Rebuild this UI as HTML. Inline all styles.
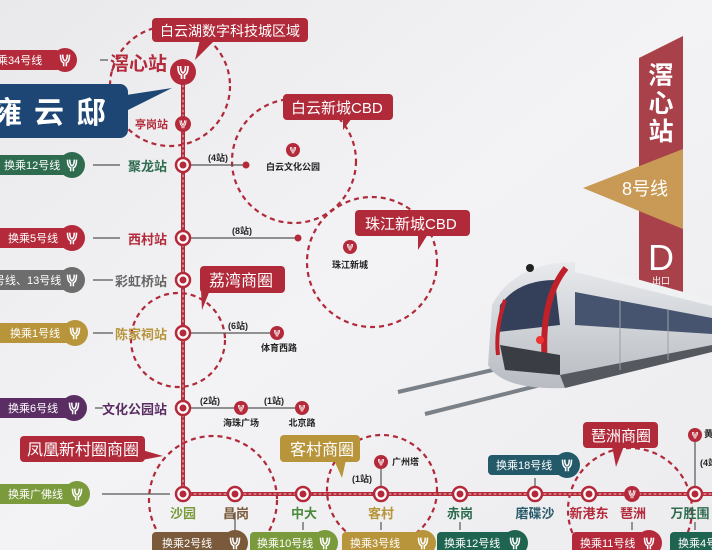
<!DOCTYPE html>
<html><head><meta charset="utf-8"><style>
html,body{margin:0;padding:0;width:712px;height:550px;overflow:hidden;background:#efeff1}
svg{display:block;font-family:"Liberation Sans","Noto Sans CJK SC",sans-serif}
</style></head><body>
<svg width="712" height="550" viewBox="0 0 712 550" xmlns="http://www.w3.org/2000/svg">
<defs>
<linearGradient id="bg" x1="0" y1="0" x2="1" y2="1"><stop offset="0" stop-color="#e9e9eb"/><stop offset="0.5" stop-color="#f3f3f5"/><stop offset="1" stop-color="#ececee"/></linearGradient>
<linearGradient id="tb" x1="0" y1="0" x2="0" y2="1"><stop offset="0" stop-color="#e8eaed"/><stop offset="1" stop-color="#b8bcc2"/></linearGradient>
<symbol id="lg" viewBox="-10 -10 20 20" overflow="visible"><path d="M-5,-6 Q-5,2 -1.5,3 L-1.5,7 M5,-6 Q5,2 1.5,3 L1.5,7 M-2.5,-6 Q-2.5,0 0,1 Q2.5,0 2.5,-6" stroke="#fff" stroke-width="1.7" fill="none"/></symbol>
</defs>
<rect width="712" height="550" fill="url(#bg)"/>

<g fill="none" stroke="#b02a3a" stroke-width="2.2" stroke-dasharray="5,4">
<circle cx="170" cy="86" r="60"/>
<circle cx="294" cy="161" r="62"/>
<circle cx="372" cy="262" r="65"/>
<circle cx="178" cy="340" r="47"/>
<circle cx="213" cy="500" r="64"/>
<circle cx="382" cy="490" r="55"/>
<circle cx="630" cy="510" r="62"/>
</g>

<path d="M639,58 L683,36 L683,310 L639,310 Z" fill="#a8414a"/>
<g fill="#fff" font-size="25" text-anchor="middle" font-weight="bold">
<text x="661" y="84">滘</text><text x="661" y="112">心</text><text x="661" y="140">站</text></g>
<path d="M583,188 L683,149 L683,229 Z" fill="#c99a55"/>
<text x="645" y="195" fill="#fff" font-size="18" text-anchor="middle">8号线</text>
<text x="661" y="270" fill="#fff" font-size="36" text-anchor="middle">D</text>
<text x="661" y="284" fill="#fff" font-size="9" text-anchor="middle">出口</text>

<g stroke="#7a8088" stroke-width="4"><line x1="398" y1="392" x2="600" y2="345"/><line x1="425" y1="414" x2="640" y2="360"/></g>
<path d="M492,305 Q515,262 575,262 L712,300 L712,350 L565,388 Q502,390 488,365 Z" fill="url(#tb)"/>
<path d="M575,262 L712,300 L712,306 L575,272 Z" fill="#f0f1f3"/>
<path d="M500,305 Q518,280 555,280 L560,325 L498,332 Z" fill="#34405a"/>
<path d="M566,268 Q540,300 545,365" stroke="#c0202a" stroke-width="6" fill="none"/>
<path d="M505,300 Q495,330 498,355" stroke="#c0202a" stroke-width="4" fill="none"/>
<path d="M575,292 L712,318 L712,334 L575,325 Z" fill="#465470"/>
<path d="M500,345 L560,355 L560,375 L505,370 Z" fill="#3a3e44"/>
<path d="M560,375 L712,345 L712,352 L565,388 Z" fill="#55595f"/>
<circle cx="530" cy="268" r="4" fill="#222"/>
<circle cx="540" cy="340" r="4" fill="#e33"/>
<g stroke="#9aa0a6" stroke-width="1"><line x1="620" y1="300" x2="620" y2="370"/><line x1="668" y1="310" x2="668" y2="360"/></g>

<g stroke-linecap="round">
<path d="M183,72 L183,494 L712,494" stroke="#b42a3a" stroke-width="4" fill="none"/>
<path d="M183,80 L183,494 L712,494" stroke="#f2c8cc" stroke-width="1" stroke-dasharray="2,3" fill="none"/>
</g>

<g stroke="#555" stroke-width="1.2">
<line x1="190" y1="165" x2="246" y2="165"/>
<line x1="190" y1="238" x2="298" y2="238"/>
<line x1="190" y1="333" x2="277" y2="333"/>
<line x1="190" y1="408" x2="302" y2="408"/>
<line x1="381" y1="462" x2="381" y2="494"/>
<line x1="695" y1="435" x2="695" y2="494"/>
<line x1="100" y1="60" x2="108" y2="60"/>
<line x1="93" y1="165" x2="120" y2="165"/>
<line x1="93" y1="238" x2="120" y2="238"/>
<line x1="93" y1="280" x2="113" y2="280"/>
<line x1="93" y1="333" x2="113" y2="333"/>
<line x1="95" y1="408" x2="103" y2="408"/>
<line x1="102" y1="494" x2="170" y2="494"/>
<line x1="235" y1="512" x2="235" y2="530"/>
<line x1="303" y1="522" x2="303" y2="530"/>
<line x1="381" y1="522" x2="381" y2="530"/>
<line x1="460" y1="522" x2="460" y2="530"/>
<line x1="535" y1="478" x2="535" y2="486"/>
<line x1="632" y1="522" x2="632" y2="530"/>
<line x1="695" y1="522" x2="695" y2="530"/>
</g>
<g fill="#b42a3a"><circle cx="246" cy="165" r="3.5"/><circle cx="298" cy="238" r="3.5"/></g>

<g fill="#fff" stroke="#b42a3a" stroke-width="2.5">
<circle cx="183" cy="165" r="7"/><circle cx="183" cy="238" r="7"/><circle cx="183" cy="280" r="7"/><circle cx="183" cy="333" r="7"/><circle cx="183" cy="408" r="7"/><circle cx="183" cy="494" r="7"/>
<circle cx="235" cy="494" r="7"/><circle cx="303" cy="494" r="7"/><circle cx="381" cy="494" r="7"/><circle cx="460" cy="494" r="7"/><circle cx="535" cy="494" r="7"/><circle cx="589" cy="494" r="7"/><circle cx="695" cy="494" r="7"/>
</g>
<g fill="#b42a3a">
<circle cx="183" cy="165" r="3.5"/><circle cx="183" cy="238" r="3.5"/><circle cx="183" cy="280" r="3.5"/><circle cx="183" cy="333" r="3.5"/><circle cx="183" cy="408" r="3.5"/><circle cx="183" cy="494" r="3.5"/>
<circle cx="235" cy="494" r="3.5"/><circle cx="303" cy="494" r="3.5"/><circle cx="381" cy="494" r="3.5"/><circle cx="460" cy="494" r="3.5"/><circle cx="535" cy="494" r="3.5"/><circle cx="589" cy="494" r="3.5"/><circle cx="695" cy="494" r="3.5"/>
</g>
<g fill="#b42a3a">
<circle cx="183" cy="72" r="13"/><circle cx="183" cy="124" r="8"/><circle cx="293" cy="150" r="7"/><circle cx="350" cy="247" r="7"/><circle cx="277" cy="333" r="7"/><circle cx="241" cy="408" r="7"/><circle cx="302" cy="408" r="7"/><circle cx="381" cy="462" r="7"/><circle cx="632" cy="494" r="8"/><circle cx="695" cy="435" r="7"/>
</g>
<use href="#lg" x="173" y="62" width="20" height="20"/>
<use href="#lg" x="177" y="118" width="12" height="12"/>
<use href="#lg" x="288" y="145" width="10" height="10"/>
<use href="#lg" x="345" y="242" width="10" height="10"/>
<use href="#lg" x="272" y="328" width="10" height="10"/>
<use href="#lg" x="236" y="403" width="10" height="10"/>
<use href="#lg" x="297" y="403" width="10" height="10"/>
<use href="#lg" x="376" y="457" width="10" height="10"/>
<use href="#lg" x="626" y="488" width="12" height="12"/>
<use href="#lg" x="690" y="430" width="10" height="10"/>

<g font-size="9" fill="#222" font-weight="bold">
<text x="208" y="161">(4站)</text><text x="293" y="170" text-anchor="middle">白云文化公园</text>
<text x="232" y="234">(8站)</text><text x="350" y="268" text-anchor="middle">珠江新城</text>
<text x="228" y="329">(6站)</text><text x="279" y="351" text-anchor="middle">体育西路</text>
<text x="200" y="404">(2站)</text><text x="264" y="404">(1站)</text>
<text x="241" y="426" text-anchor="middle">海珠广场</text><text x="302" y="426" text-anchor="middle">北京路</text>
<text x="392" y="465">广州塔</text><text x="352" y="482">(1站)</text>
<text x="700" y="466">(4站)</text><text x="704" y="437">黄</text>
</g>

<g font-size="13" text-anchor="end" font-weight="bold">
<text x="167" y="171" fill="#2e6b4f">聚龙站</text>
<text x="167" y="244" fill="#b42a3a">西村站</text>
<text x="167" y="286" fill="#666">彩虹桥站</text>
<text x="167" y="339" fill="#b8943a">陈家祠站</text>
<text x="167" y="414" fill="#5a2d63">文化公园站</text>
<text x="168" y="128" fill="#b42a3a" font-size="11">亭岗站</text>
</g>
<text x="110" y="70" font-size="19" fill="#b42a3a" font-weight="bold">滘心站</text>
<g font-size="13" text-anchor="middle" font-weight="bold">
<text x="183" y="518" fill="#7a9a3c">沙园</text>
<text x="236" y="518" fill="#7a5a3a">昌岗</text>
<text x="304" y="518" fill="#4a8a3a">中大</text>
<text x="381" y="518" fill="#b8943a">客村</text>
<text x="460" y="518" fill="#2e6b4f">赤岗</text>
<text x="535" y="518" fill="#2a5a6a">磨碟沙</text>
<text x="589" y="518" fill="#b42a3a">新港东</text>
<text x="633" y="518" fill="#b42a3a">琶洲</text>
<text x="690" y="518" fill="#2e6b4f">万胜围</text>
</g>

<g font-size="11" fill="#fff">
<rect x="-12" y="50" width="78" height="20" rx="10" fill="#b42a3a"/><circle cx="65" cy="60" r="12" fill="#b42a3a"/><text x="-3" y="64">乘34号线</text>
<rect x="-12" y="155" width="88" height="20" rx="10" fill="#2e6b4f"/><circle cx="72" cy="165" r="13" fill="#2e6b4f"/><text x="4" y="169">换乘12号线</text>
<rect x="-12" y="228" width="88" height="20" rx="10" fill="#b42a3a"/><circle cx="72" cy="238" r="13" fill="#b42a3a"/><text x="8" y="242">换乘5号线</text>
<rect x="-12" y="270" width="88" height="20" rx="10" fill="#6d6d6d"/><circle cx="72" cy="280" r="13" fill="#6d6d6d"/><text x="-6" y="284">号线、13号线</text>
<rect x="-12" y="323" width="90" height="20" rx="10" fill="#b8943a"/><circle cx="75" cy="333" r="13" fill="#b8943a"/><text x="10" y="337">换乘1号线</text>
<rect x="-12" y="398" width="90" height="20" rx="10" fill="#5a2d63"/><circle cx="74" cy="408" r="13" fill="#5a2d63"/><text x="8" y="412">换乘6号线</text>
<rect x="-12" y="484" width="92" height="20" rx="10" fill="#7a9a3c"/><circle cx="77" cy="494" r="13" fill="#7a9a3c"/><text x="8" y="498">换乘广佛线</text>
<rect x="488" y="455" width="84" height="20" rx="4" fill="#24596a"/><circle cx="567" cy="465" r="13" fill="#24596a"/><text x="496" y="469">换乘18号线</text>
<rect x="152" y="532" width="82" height="22" rx="4" fill="#7a5a3a"/><circle cx="235" cy="543" r="13" fill="#7a5a3a"/><text x="162" y="547">换乘2号线</text>
<rect x="250" y="532" width="72" height="22" rx="4" fill="#7a9a3c"/><circle cx="325" cy="543" r="13" fill="#7a9a3c"/><text x="257" y="547">换乘10号线</text>
<rect x="342" y="532" width="82" height="22" rx="4" fill="#b8943a"/><circle cx="423" cy="543" r="13" fill="#b8943a"/><text x="350" y="547">换乘3号线</text>
<rect x="437" y="532" width="78" height="22" rx="4" fill="#1f6450"/><circle cx="515" cy="543" r="13" fill="#1f6450"/><text x="444" y="547">换乘12号线</text>
<rect x="572" y="532" width="76" height="22" rx="4" fill="#b42a3a"/><circle cx="649" cy="543" r="13" fill="#b42a3a"/><text x="580" y="547">换乘11号线</text>
<rect x="670" y="532" width="50" height="22" rx="4" fill="#1f6450"/><text x="678" y="547">换乘4号</text>
</g>
<g>
<use href="#lg" x="56" y="51" width="18" height="18"/><use href="#lg" x="63" y="156" width="18" height="18"/><use href="#lg" x="63" y="229" width="18" height="18"/><use href="#lg" x="63" y="271" width="18" height="18"/><use href="#lg" x="66" y="324" width="18" height="18"/><use href="#lg" x="65" y="399" width="18" height="18"/><use href="#lg" x="68" y="485" width="18" height="18"/><use href="#lg" x="558" y="456" width="18" height="18"/><use href="#lg" x="226" y="534" width="18" height="18"/><use href="#lg" x="316" y="534" width="18" height="18"/><use href="#lg" x="414" y="534" width="18" height="18"/><use href="#lg" x="506" y="534" width="18" height="18"/><use href="#lg" x="640" y="534" width="18" height="18"/>
</g>

<path d="M120,96 L172,88 L120,114 Z" fill="#1d4675"/>
<rect x="-10" y="84" width="138" height="54" rx="8" fill="#1d4675"/>
<text x="-8" y="123" fill="#fff" font-size="30" font-weight="bold" letter-spacing="12">雍云邸</text>

<g font-size="14" fill="#fff">
<path d="M200,40 L195,60 L215,40 Z" fill="#b02a3a"/><rect x="152" y="18" width="156" height="24" rx="4" fill="#b02a3a"/><text x="160" y="36">白云湖数字科技城区域</text>
<path d="M343,118 L343,130 L352,118 Z" fill="#b02a3a"/><rect x="283" y="94" width="110" height="26" rx="4" fill="#b02a3a"/><text x="291" y="113" font-size="15">白云新城CBD</text>
<path d="M418,234 L418,250 L428,234 Z" fill="#b02a3a"/><rect x="355" y="210" width="115" height="26" rx="4" fill="#b02a3a"/><text x="365" y="229" font-size="15">珠江新城CBD</text>
<path d="M201,290 L202,310 L210,290 Z" fill="#b02a3a"/><rect x="200" y="266" width="85" height="27" rx="4" fill="#b02a3a"/><text x="209" y="286" font-size="16">荔湾商圈</text>
<path d="M142,450 L163,456 L142,460 Z" fill="#b02a3a"/><rect x="20" y="436" width="125" height="26" rx="4" fill="#b02a3a"/><text x="27" y="455" font-size="16">凤凰新村圈商圈</text>
<path d="M334,460 L342,478 L346,460 Z" fill="#b8943a"/><rect x="280" y="435" width="80" height="27" rx="4" fill="#b8943a"/><text x="290" y="455" font-size="16">客村商圈</text>
<path d="M612,446 L616,467 L624,446 Z" fill="#b02a3a"/><rect x="583" y="422" width="75" height="26" rx="4" fill="#b02a3a"/><text x="591" y="441" font-size="15">琶洲商圈</text>
</g>
</svg>
</body></html>
